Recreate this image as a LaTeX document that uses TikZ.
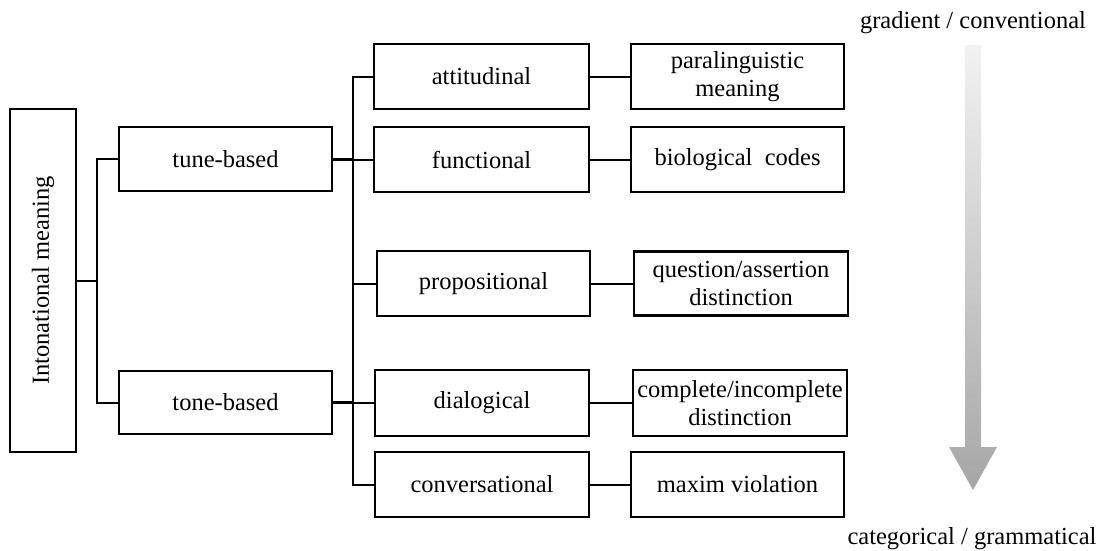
\documentclass[tikz,border=0pt]{standalone}
\usepackage{fontspec}
\setmainfont{Liberation Serif}
\usepackage{graphicx}
\definecolor{arrowtop}{HTML}{F2F2F2}
\definecolor{arrowbot}{HTML}{A6A6A6}
\begin{document}
\begin{tikzpicture}[x=1pt,y=-1pt,
  box/.style={draw=black, line width=2.2pt, fill=white, inner sep=0pt,
    align=center, font=\fontsize{24.5}{27.5}\selectfont},
  link/.style={draw=black, line width=2pt},
  stub/.style={draw=black, line width=3pt},
  scale label/.style={anchor=base, inner sep=0pt, font=\fontsize{24.5}{27.5}\selectfont}]
\useasboundingbox (0,0) rectangle (1099,550);

% root
\node[box, minimum width=66pt, minimum height=343pt] (root) at (43,280.5)
  {\rotatebox{90}{Intonational meaning}};

% first level
\node[box, minimum width=213pt, minimum height=64pt] (tune) at (225.5,159) {tune-based};
\node[box, minimum width=213pt, minimum height=63pt] (tone) at (225.5,402.5) {tone-based};

% second level
\node[box, minimum width=215pt, minimum height=65pt] (att)  at (481.5,76.5)  {attitudinal};
\node[box, minimum width=215pt, minimum height=65pt] (fun)  at (481.5,159.5) {functional};
\node[box, minimum width=213pt, minimum height=65pt] (prop) at (483.5,283.5) {propositional};
\node[box, minimum width=214pt, minimum height=66pt] (dia)  at (482,403)     {dialogical};
\node[box, minimum width=214pt, minimum height=65pt] (conv) at (482,484.5)   {conversational};

% third level
\node[box, minimum width=213pt, minimum height=65pt] (para) at (737.5,76.5)  {paralinguistic\\meaning};
\node[box, minimum width=213pt, minimum height=65pt] (bio)  at (737.5,159.5) {biological~ codes};
\node[box, minimum width=214pt, minimum height=64pt] (qa)   at (741,283.5)   {question/assertion\\distinction};
\node[box, minimum width=214pt, minimum height=66pt] (ci)   at (740,403)     {complete/incomplete\\distinction};
\node[box, minimum width=213pt, minimum height=65pt] (mv)   at (737.5,484.5) {maxim violation};

% junctions
\coordinate (rj) at (97,280.5);
\coordinate (bt) at (353,76.5);
\coordinate (bb) at (353,484.5);

% root to first level
\draw[link] (root.east) -- (rj);
\draw[link] (tune.west) -| (rj) |- (tone.west);

% bus to second level
\draw[link] (att.west) -| (bt) -- (bb) -- (conv.west);
\draw[link] (fun.west) -- (fun.west -| bt);
\draw[link] (prop.west) -- (prop.west -| bt);
\draw[link] (dia.west) -- (dia.west -| bt);
\draw[stub] (tune.east) -- (tune.east -| bt);
\draw[stub] (tone.east) -- (tone.east -| bt);

% second to third level
\draw[link] (att.east) -- (para.west);
\draw[link] (fun.east) -- (bio.west);
\draw[link] (prop.east) -- (qa.west);
\draw[link] (dia.east) -- (ci.west);
\draw[link] (conv.east) -- (mv.west);

% gradient scale arrow
\shade[top color=arrowtop, bottom color=arrowbot]
  (965,45) -- (981,45) -- (981,447) -- (997,447) -- (973,490) -- (949,447) -- (965,447) -- cycle;
\node[scale label] (grad) at (973,28) {gradient / conventional};
\node[scale label] (cat) at (972,544) {categorical / grammatical};
\end{tikzpicture}
\end{document}
